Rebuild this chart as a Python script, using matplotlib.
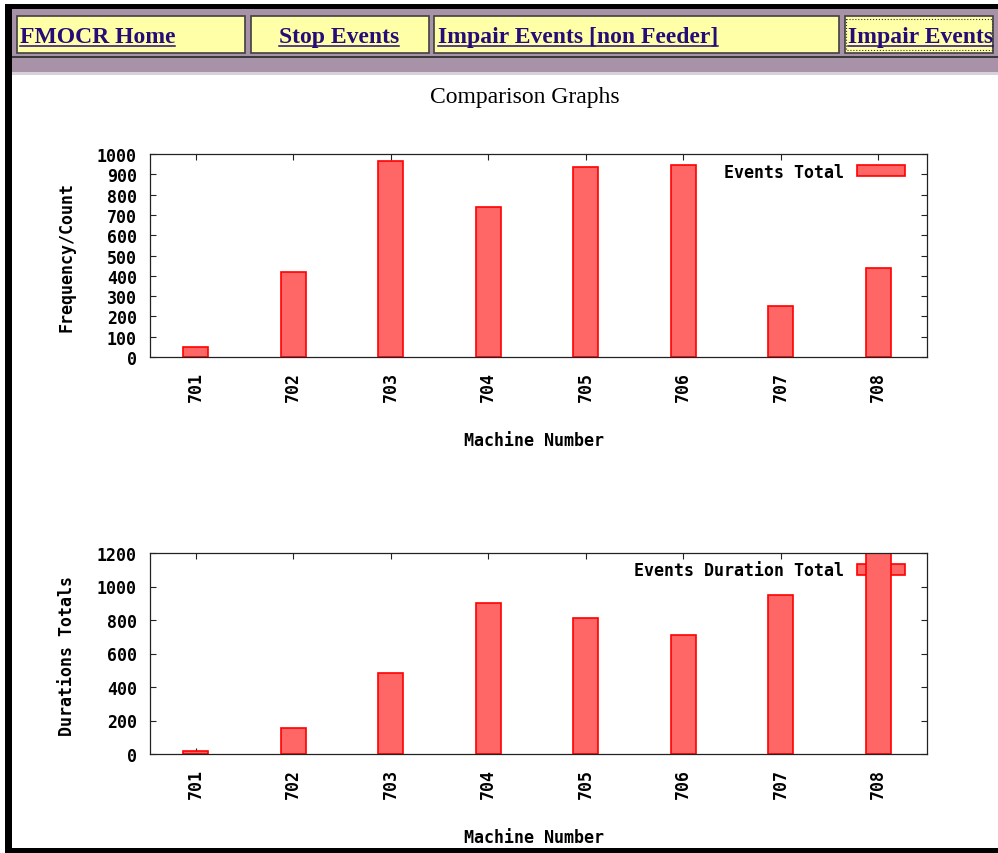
# coding : utf8

import matplotlib
matplotlib.use("Agg")
import matplotlib.pyplot as plt
from matplotlib.patches import Rectangle
import numpy as np

# data
machines = ["701", "702", "703", "704", "705", "706", "707", "708"]
events_total = [50, 420, 965, 740, 935, 945, 250, 440]
duration_total = [20, 155, 485, 900, 810, 710, 950, 1260]

nav_labels = ["FMOCR Home", "Stop Events", "Impair Events [non Feeder]", "Impair Events"]

W, H = 998, 854
BAR_FILL = "#ff6666"
BAR_EDGE = "#ff0000"
LINK = "#260c78"
SERIF = "Liberation Serif"

plt.rcParams["font.family"] = "DejaVu Sans Mono"
plt.rcParams["font.weight"] = "bold"
plt.rcParams["axes.labelweight"] = "bold"


def px_axes(fig, left, top, right, bottom):
    return fig.add_axes([left / W, 1 - bottom / H, (right - left) / W, (bottom - top) / H])


def bar_panel(ax, values, ymax, ystep, ylabel, legend_label, xlab_y, ylab_y):
    x = np.arange(1, len(machines) + 1)
    ax.bar(x, values, width=0.26, color=BAR_FILL, edgecolor=BAR_EDGE,
           linewidth=1.2, label=legend_label, zorder=1)
    ax.set_xlim(0.53, 8.5)
    ax.set_ylim(0, ymax)
    ax.set_xticks(x)
    ax.set_xticklabels(machines, rotation=90)
    ax.set_yticks(np.arange(0, ymax + 1, ystep))
    ax.set_axisbelow(True)
    ax.tick_params(direction="in", length=4, width=0.8, top=True, right=True,
                   labelsize=12, color="#222222")
    ax.tick_params(axis="y", pad=9.4)
    ax.tick_params(axis="x", pad=10)
    for sp in ax.spines.values():
        sp.set_linewidth(0.9)
        sp.set_color("#222222")

    ax.set_xlabel("Machine Number", fontsize=12, fontweight="bold")
    ax.xaxis.set_label_coords(0.494, xlab_y)
    ax.xaxis.label.set_va("center")
    ax.set_ylabel(ylabel, fontsize=12, fontweight="bold")
    ax.yaxis.set_label_coords(-0.107, ylab_y)
    ax.yaxis.label.set_va("center")

    leg = ax.legend(loc="upper right", bbox_to_anchor=((905 - 150) / 777, 0.958),
                    frameon=False, markerfirst=False, fontsize=12,
                    handlelength=2.88, handleheight=0.6, handletextpad=0.78,
                    borderpad=0, borderaxespad=0)
    leg.set_zorder(0.8)


fig = plt.figure(figsize=(W / 100, H / 100), dpi=100, facecolor="white")

# page background drawn in pixel coordinates
bg = fig.add_axes([0, 0, 1, 1])
bg.set_xlim(0, W)
bg.set_ylim(H, 0)
bg.set_axis_off()

bg.add_patch(Rectangle((5, 5), W - 5, 5, color="black", linewidth=0))
bg.add_patch(Rectangle((5, 5), 7, H - 5, color="black", linewidth=0))
bg.add_patch(Rectangle((5, 849), W - 5, 5, color="black", linewidth=0))
bg.add_patch(Rectangle((12, 10), W - 12, 64, color="#a792a7", linewidth=0))
bg.add_patch(Rectangle((12, 73), W - 12, 3, color="#d9d0db", linewidth=0))
bg.add_patch(Rectangle((12, 56.5), W - 12, 2, color="#3a3a3a", linewidth=0))

buttons = [(17, 245), (251, 429), (434, 839), (845, 993)]
text_x = [20, 279, 438, 848]
for (x0, x1), tx, lab in zip(buttons, text_x, nav_labels):
    bg.add_patch(Rectangle((x0, 17), x1 - x0, 37, facecolor="#ffffa8",
                           edgecolor="#404040", linewidth=1.2))
    bg.text(tx, 43, lab, family=SERIF, weight="bold", fontsize=17,
            color=LINK, ha="left", va="baseline")

# focus outline on the last button
bg.add_patch(Rectangle((846, 20), 146, 31, fill=False, edgecolor="#333333",
                       linewidth=0.8, linestyle=":"))

bg.text(525, 97, "Comparison Graphs", family=SERIF, weight="normal",
        fontsize=17, color="black", ha="center", va="center")

ax1 = px_axes(fig, 150, 155, 927, 358)
bar_panel(ax1, events_total, 1000, 100, "Frequency/Count", "Events Total",
          (358 - 441.5) / 203, 0.5)

ax2 = px_axes(fig, 150, 554, 927, 755)
bar_panel(ax2, duration_total, 1200, 200, "Durations Totals", "Events Duration Total",
          (755 - 838) / 201, 0.4925)

# underline the link texts
renderer = fig.canvas.get_renderer()
inv = bg.transData.inverted()
for t in bg.texts[:4]:
    bb = t.get_window_extent(renderer)
    (ux0, _), (ux1, _) = inv.transform([(bb.x0, bb.y0), (bb.x1, bb.y0)])
    bg.plot([ux0, ux1], [46.5, 46.5], color=LINK, linewidth=1.1)

fig.savefig("out.png", dpi=100)
